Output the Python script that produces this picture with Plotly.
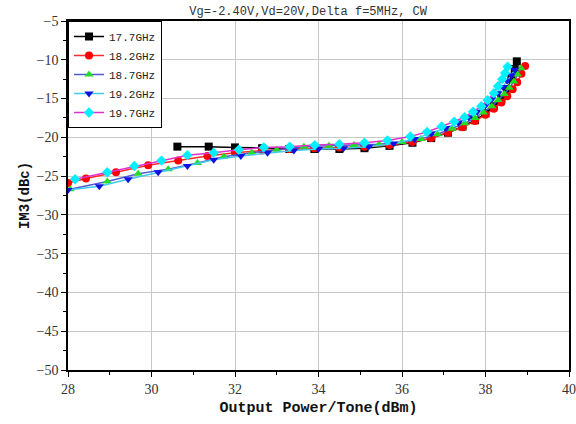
import plotly.graph_objects as go

# 17.7 GHz
x177 = [30.62, 31.37, 32.0, 32.65, 33.3, 33.9, 34.5, 35.1, 35.7, 36.25, 36.7, 37.1, 37.45, 37.75, 38.0, 38.2, 38.38, 38.52, 38.62, 38.7, 38.75]
y177 = [-21.2, -21.2, -21.3, -21.4, -21.5, -21.5, -21.5, -21.4, -21.1, -20.7, -20.1, -19.4, -18.6, -17.8, -16.9, -16.0, -15.0, -13.8, -12.4, -11.2, -10.2]
# 18.2 GHz
x182 = [28.0, 28.43, 29.15, 29.92, 30.64, 31.34, 32.0, 32.65, 33.3, 33.9, 34.5, 35.1, 35.7, 36.25, 36.7, 37.1, 37.45, 37.75, 38.0, 38.2, 38.38, 38.52, 38.65, 38.76, 38.86, 38.95]
y182 = [-25.9, -25.3, -24.5, -23.6, -23.0, -22.4, -22.0, -21.7, -21.5, -21.4, -21.3, -21.2, -21.0, -20.6, -20.1, -19.4, -18.7, -17.9, -17.1, -16.3, -15.5, -14.7, -13.8, -12.9, -11.8, -10.8]
# 18.7 GHz
x187 = [28.05, 28.94, 29.68, 30.40, 31.1, 31.73, 32.4, 33.0, 33.65, 34.25, 34.85, 35.45, 36.0, 36.45, 36.85, 37.2, 37.5, 37.75, 37.95, 38.15, 38.3, 38.45, 38.57, 38.68, 38.77, 38.85]
y187 = [-26.7, -25.7, -24.7, -24.1, -23.3, -22.5, -22.0, -21.6, -21.2, -21.1, -21.0, -20.9, -20.6, -20.2, -19.6, -18.9, -18.2, -17.5, -16.8, -16.0, -15.2, -14.4, -13.6, -12.8, -11.9, -11.1]
# 19.2 GHz
x192 = [28.0, 28.75, 29.44, 30.16, 30.86, 31.49, 32.14, 32.78, 33.41, 34.0, 34.6, 35.2, 35.8, 36.3, 36.7, 37.05, 37.35, 37.6, 37.8, 38.0, 38.15, 38.3, 38.42, 38.52, 38.62, 38.7]
y192 = [-26.8, -26.3, -25.4, -24.5, -23.7, -22.9, -22.4, -22.0, -21.7, -21.5, -21.4, -21.2, -20.8, -20.2, -19.5, -18.8, -18.1, -17.4, -16.7, -15.9, -15.1, -14.3, -13.5, -12.7, -12.0, -11.3]
# 19.7 GHz
x197 = [28.17, 28.94, 29.59, 30.24, 30.86, 31.49, 32.09, 32.69, 33.31, 33.91, 34.5, 35.1, 35.65, 36.2, 36.6, 36.95, 37.25, 37.5, 37.7, 37.9, 38.05, 38.2, 38.3, 38.4, 38.47, 38.53]
y197 = [-25.4, -24.5, -23.7, -23.0, -22.3, -22.0, -21.6, -21.3, -21.2, -21.0, -20.9, -20.7, -20.4, -19.9, -19.3, -18.6, -18.0, -17.4, -16.7, -16.0, -15.2, -14.3, -13.4, -12.5, -11.7, -10.9]

names = ["17.7GHz", "18.2GHz", "18.7GHz", "19.2GHz", "19.7GHz"]
xs = [x177, x182, x187, x192, x197]
ys = [y177, y182, y187, y192, y197]
line_colors = ["#000000", "#ff2a2a", "#4f5bd5", "#40c8f0", "#e030d0"]
marker_colors = ["#000000", "#ff0000", "#22dd22", "#1010e0", "#00f0ff"]
symbols = ["square", "circle", "triangle-up", "triangle-down", "diamond"]

fig = go.Figure()
for n, x, y, lc, mc, s in zip(names, xs, ys, line_colors, marker_colors, symbols):
    fig.add_trace(go.Scatter(
        x=x, y=y, name=n, mode="lines+markers",
        line=dict(color=lc, width=1.5),
        marker=dict(color=mc, symbol=s, size=8, line=dict(width=0)),
        cliponaxis=True,
    ))

axis_common = dict(
    showline=True, linecolor="black", linewidth=1.5, mirror=True,
    ticks="outside", ticklen=5, tickcolor="black", tickwidth=1,
    showgrid=True, gridcolor="#c8c8c8", gridwidth=1, zeroline=False,
    tickfont=dict(family="Liberation Serif, DejaVu Serif, serif", size=14, color="#333"),
    minor=dict(ticks="outside", ticklen=3, tickcolor="black", showgrid=False),
    automargin=False,
)

fig.update_layout(
    width=576, height=424,
    margin=dict(l=68, r=7, t=21, b=54),
    paper_bgcolor="white", plot_bgcolor="white",
    title=dict(text="Vg=-2.40V,Vd=20V,Delta f=5MHz, CW", x=0.535, xanchor="center",
               y=0.985, yanchor="top",
               font=dict(family="Liberation Mono", size=12, color="#333")),
    xaxis=dict(range=[28, 40], dtick=2, minor_dtick=1,
               title=dict(text="<b>Output Power/Tone(dBm)</b>", standoff=6,
                          font=dict(family="Liberation Mono", size=15, color="#111")),
               **axis_common),
    yaxis=dict(range=[-50, -5], dtick=5, minor_dtick=2.5,
               title=dict(text="<b>IM3(dBc)</b>", standoff=4,
                          font=dict(family="Liberation Mono", size=14, color="#111")),
               **axis_common),
    legend=dict(x=0.0, y=1.0, xanchor="left", yanchor="top",
                bgcolor="white", bordercolor="black", borderwidth=1,
                font=dict(family="Liberation Mono", size=11, color="#222"),
                tracegroupgap=0, itemwidth=30),
    showlegend=True,
)

fig.write_html("out.html")
